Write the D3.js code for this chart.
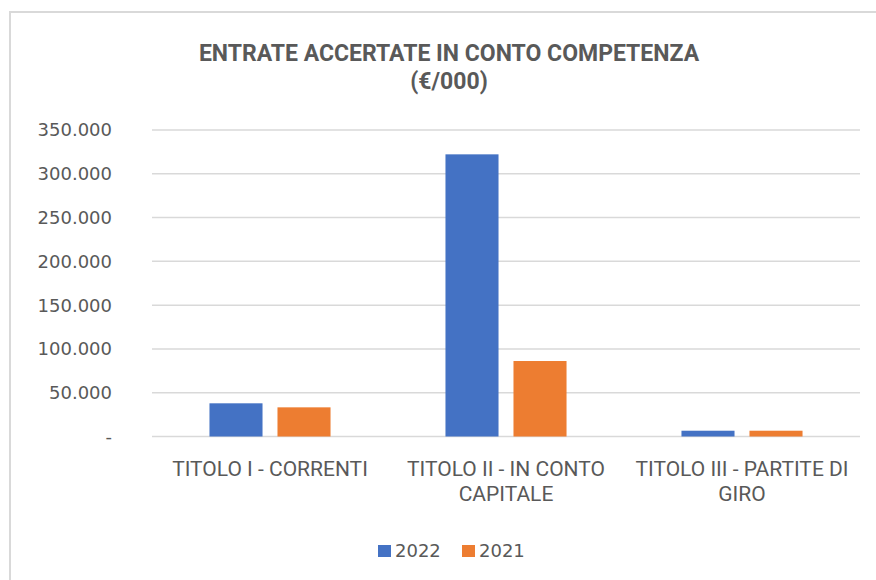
<!DOCTYPE html>
<html>
<head>
<meta charset="utf-8">
<script src="https://cdn.jsdelivr.net/npm/d3@7"></script>
<style>
  body { margin: 0; background: #fff; }
  svg { display: block; }
</style>
</head>
<body>
<svg id="chart" width="876" height="580"></svg>
<script>
// chart data
const categories = [
  ["TITOLO I - CORRENTI"],
  ["TITOLO II - IN CONTO", "CAPITALE"],
  ["TITOLO III - PARTITE DI", "GIRO"]
];
const series = ["2022", "2021"];
const values2022 = [37900, 322200, 6600];
const values2021 = [33300, 86200, 6600];
const yTicks = [0, 50000, 100000, 150000, 200000, 250000, 300000, 350000];
const yTickLabels = ["-", "50.000", "100.000", "150.000", "200.000", "250.000", "300.000", "350.000"];
const titleLines = ["ENTRATE ACCERTATE IN CONTO COMPETENZA", "(€/000)"];
const colors = ["#4472C4", "#ED7D31"];

const svg = d3.select("#chart");
const grey = "#595959";

// outer frame (runs off the right and bottom edges)
svg.append("rect")
  .attr("x", 10).attr("y", 12)
  .attr("width", 900).attr("height", 600)
  .attr("fill", "none")
  .attr("stroke", "#d9d9d9")
  .attr("stroke-width", 2);

// title
svg.append("g").selectAll("text")
  .data(titleLines)
  .join("text")
  .attr("x", 449)
  .attr("y", (d, i) => 61 + i * 28)
  .attr("text-anchor", "middle")
  .attr("font-family", "Roboto, sans-serif")
  .attr("font-weight", "bold")
  .attr("font-size", 23)
  .attr("fill", grey)
  .text(d => d);

// scales
const plotL = 152, plotR = 860, plotT = 130, plotB = 436.5;
const x = d3.scaleBand()
  .domain(d3.range(categories.length))
  .range([plotL, plotR]);
const x1 = d3.scaleBand()
  .domain(series)
  .range([0, x.bandwidth()])
  .paddingInner(0.22)
  .paddingOuter(0.845);
const y = d3.scaleLinear()
  .domain([0, 350000])
  .range([plotB, plotT]);

// gridlines
svg.append("g").selectAll("line")
  .data(yTicks)
  .join("line")
  .attr("x1", plotL).attr("x2", plotR)
  .attr("y1", d => y(d)).attr("y2", d => y(d))
  .attr("stroke", "#d9d9d9")
  .attr("stroke-width", 1.5);

// y labels
svg.append("g").selectAll("text")
  .data(yTicks)
  .join("text")
  .attr("x", 112)
  .attr("y", d => y(d))
  .attr("dy", "0.36em")
  .attr("text-anchor", "end")
  .attr("font-family", "'DejaVu Sans', sans-serif")
  .attr("font-size", 18)
  .attr("fill", grey)
  .text((d, i) => yTickLabels[i]);

// bars
const rows = categories.map((c, i) => ({ i, vals: [values2022[i], values2021[i]] }));
const groups = svg.append("g").selectAll("g")
  .data(rows)
  .join("g")
  .attr("transform", d => `translate(${x(d.i)},0)`);

groups.selectAll("rect")
  .data(d => d.vals.map((v, k) => ({ s: series[k], v, k })))
  .join("rect")
  .attr("x", d => x1(d.s))
  .attr("width", x1.bandwidth())
  .attr("y", d => y(d.v))
  .attr("height", d => y(0) - y(d.v))
  .attr("fill", d => colors[d.k]);

// category labels
const catG = svg.append("g").selectAll("text")
  .data(categories)
  .join("text")
  .attr("text-anchor", "middle")
  .attr("font-family", "Roboto, sans-serif")
  .attr("font-size", 21)
  .attr("fill", grey);
catG.selectAll("tspan")
  .data((d, i) => d.map(line => ({ line, i })))
  .join("tspan")
  .attr("x", d => x(d.i) + x.bandwidth() / 2)
  .attr("y", (d, j) => 476 + j * 25)
  .text(d => d.line);

// legend
const legendX = [378, 462];
const legend = svg.append("g").selectAll("g")
  .data(series)
  .join("g")
  .attr("transform", (d, i) => `translate(${legendX[i]},545)`);
legend.append("rect")
  .attr("width", 13).attr("height", 12)
  .attr("fill", (d, i) => colors[i]);
legend.append("text")
  .attr("x", 17).attr("y", 12)
  .attr("font-family", "'DejaVu Sans', sans-serif")
  .attr("font-size", 18)
  .attr("fill", grey)
  .text(d => d);
</script>
</body>
</html>
